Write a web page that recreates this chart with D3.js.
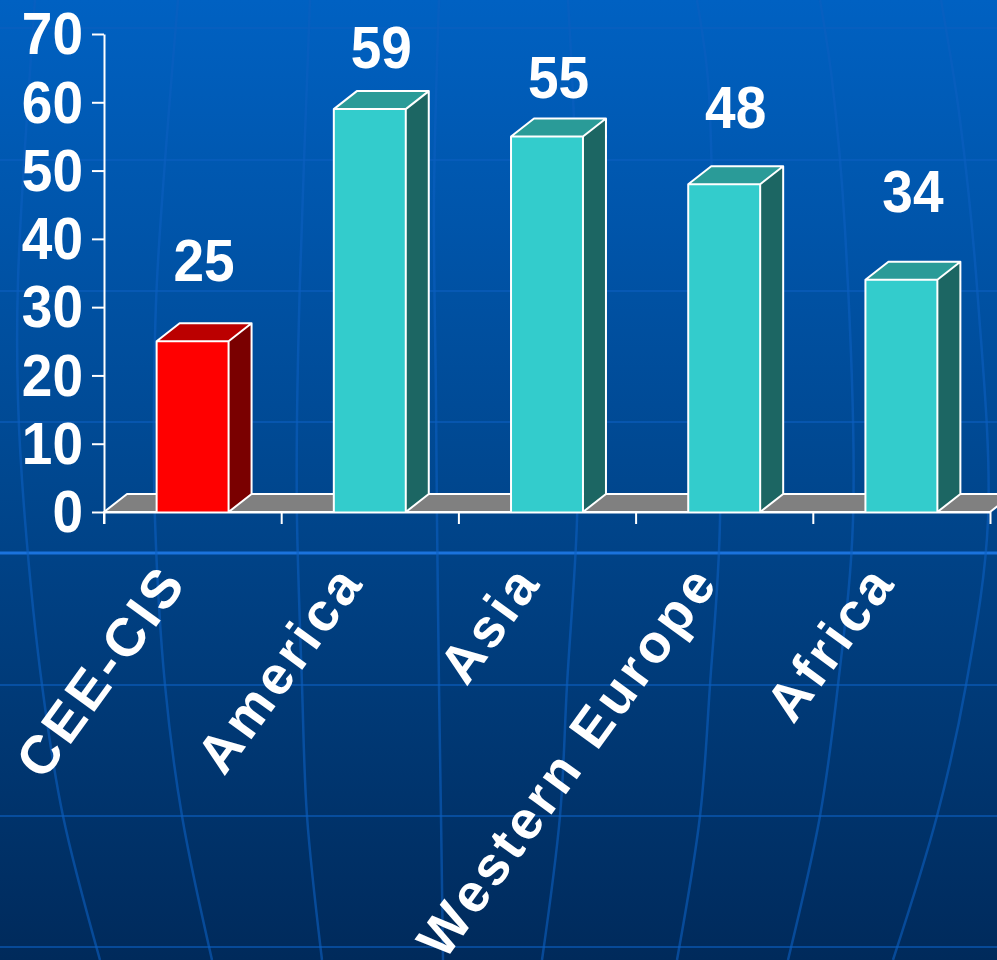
<!DOCTYPE html>
<html>
<head>
<meta charset="utf-8">
<script src="https://cdn.jsdelivr.net/npm/d3@7"></script>
<style>
  html, body { margin: 0; padding: 0; background: #003a7a; }
  svg { display: block; }
  text { font-family: "Liberation Sans", Arial, sans-serif; font-weight: bold; fill: #ffffff; }
</style>
</head>
<body>
<svg id="chart" width="997" height="960"></svg>
<script>
// ---- data ----
const categories = ["CEE-CIS", "America", "Asia", "Western Europe", "Africa"];
const values = [25, 59, 55, 48, 34];
const highlight = ["CEE-CIS"];
const yTicks = [0, 10, 20, 30, 40, 50, 60, 70];

// ---- layout ----
const W = 997, H = 960;
const plot = { left: 104, right: 990, top: 34, bottom: 512 };
const depth = { dx: 23, dy: -18 };          // oblique offset of the 3-D boxes
const labelGap = [60, 41, 38, 56, 68];       // space between box top and its value label
const stretch = 1.07;                        // numerals are drawn slightly tall

const colors = {
  normal:    { front: "#33cccc", top: "#2a9b98", side: "#1c6663" },
  highlight: { front: "#ff0000", top: "#bb0000", side: "#7a0000" },
  floor: "#808080"
};

const svg = d3.select("#chart");

// ---- backdrop: blue gradient with a globe-like graticule ----
const defs = svg.append("defs");
const grad = defs.append("linearGradient")
  .attr("id", "bg").attr("x1", 0).attr("y1", 0).attr("x2", 0).attr("y2", 1);
grad.append("stop").attr("offset", "0%").attr("stop-color", "#0061c2");
grad.append("stop").attr("offset", "50%").attr("stop-color", "#00478f");
grad.append("stop").attr("offset", "100%").attr("stop-color", "#002a5b");
svg.append("rect").attr("width", W).attr("height", H).attr("fill", "url(#bg)");

const parallels = [28, 160, 291, 422, 553, 685, 816, 947];
const meridians = [
  [[35, 0], [18, 280], [18, 400], [25, 520], [42, 685], [63, 816], [100, 960]],
  [[178, 0], [157, 280], [154, 400], [155, 520], [165, 685], [182, 816], [212, 960]],
  [[310, 0], [300, 280], [297, 420], [297, 520], [302, 685], [307, 816], [322, 960]],
  [[439, 0], [434, 200], [436, 400], [437, 520], [439, 685], [441, 816], [443, 960]],
  [[568, 0], [575, 150], [577, 400], [577, 520], [567, 685], [560, 816], [542, 960]],
  [[697, 0], [708, 80], [713, 230], [720, 520], [710, 685], [700, 816], [677, 960]],
  [[820, 0], [832, 80], [845, 230], [853, 520], [838, 685], [820, 816], [788, 960]],
  [[941, 0], [960, 120], [978, 300], [988, 520], [966, 685], [937, 816], [893, 960]]
];
const grid = svg.append("g").attr("class", "graticule").attr("fill", "none");
grid.selectAll("line").data(parallels).join("line")
  .attr("x1", 0).attr("x2", W).attr("y1", d => d).attr("y2", d => d)
  .attr("stroke", d => d === 553 ? "#1b73dd" : "#0c5fc0")
  .attr("stroke-width", d => d === 553 ? 3 : 2)
  .attr("stroke-opacity", d => d === 553 ? 1 : 0.6);
grid.selectAll("path").data(meridians).join("path")
  .attr("d", d3.line().curve(d3.curveCatmullRom))
  .attr("stroke", "#0c5fc0").attr("stroke-width", 2.5).attr("stroke-opacity", 0.6);

// ---- scales ----
const x = d3.scaleBand().domain(categories).range([plot.left, plot.right])
  .paddingInner(0.594).paddingOuter(0.297);
const xEdge = d3.scaleLinear().domain([0, categories.length]).range([plot.left, plot.right]);
const y = d3.scaleLinear().domain([0, 70]).range([plot.bottom, plot.top]);

// ---- floor ----
const y0 = y(0);
svg.append("path")
  .attr("d", d3.line()([
    [plot.left, y0], [plot.right, y0],
    [plot.right + depth.dx, y0 + depth.dy], [plot.left + depth.dx, y0 + depth.dy]
  ]) + "Z")
  .attr("fill", colors.floor).attr("stroke", "#fff").attr("stroke-width", 2)
  .attr("stroke-linejoin", "round");

// ---- 3-D boxes ----
const rows = categories.map((c, i) => ({ c, v: values[i], i }));
const bw = x.bandwidth();
const boxes = svg.append("g").selectAll("g").data(rows).join("g");
const pal = d => highlight.includes(d.c) ? colors.highlight : colors.normal;

boxes.append("path")   // side face
  .attr("d", d => {
    const x1 = x(d.c) + bw, yt = y(d.v);
    return d3.line()([[x1, y0], [x1, yt], [x1 + depth.dx, yt + depth.dy], [x1 + depth.dx, y0 + depth.dy]]) + "Z";
  })
  .attr("fill", d => pal(d).side);
boxes.append("path")   // top face
  .attr("d", d => {
    const x0 = x(d.c), x1 = x0 + bw, yt = y(d.v);
    return d3.line()([[x0, yt], [x1, yt], [x1 + depth.dx, yt + depth.dy], [x0 + depth.dx, yt + depth.dy]]) + "Z";
  })
  .attr("fill", d => pal(d).top);
boxes.append("rect")   // front face
  .attr("x", d => x(d.c)).attr("y", d => y(d.v))
  .attr("width", bw).attr("height", d => y0 - y(d.v))
  .attr("fill", d => pal(d).front);
boxes.append("path")   // outline
  .attr("d", d => {
    const x0 = x(d.c), x1 = x0 + bw, yt = y(d.v);
    return d3.line()([[x0, y0], [x0, yt], [x1, yt], [x1, y0]]) +
      d3.line()([[x0, yt], [x0 + depth.dx, yt + depth.dy], [x1 + depth.dx, yt + depth.dy], [x1, yt]]) +
      d3.line()([[x1 + depth.dx, yt + depth.dy], [x1 + depth.dx, y0 + depth.dy], [x1, y0]]);
  })
  .attr("fill", "none").attr("stroke", "#fff").attr("stroke-width", 2)
  .attr("stroke-linejoin", "round");

// ---- axes ----
const yAxis = svg.append("g").attr("transform", `translate(${plot.left},0)`)
  .call(d3.axisLeft(y).tickValues(yTicks).tickSize(12).tickSizeOuter(0).tickPadding(9));
yAxis.select(".domain").attr("stroke", "#fff").attr("stroke-width", 2);
yAxis.selectAll(".tick line").attr("stroke", "#fff").attr("stroke-width", 2);
yAxis.selectAll(".tick text").attr("fill", "#fff").attr("font-size", 55)
  .attr("font-family", "Liberation Sans, Arial, sans-serif").attr("font-weight", "bold")
  .attr("x", null).attr("dy", null)
  .attr("transform", `translate(-21,0) scale(1,${stretch}) translate(0,${0.36 * 55 / stretch})`);
yAxis.append("line").attr("y1", y0).attr("y2", y0 + 12).attr("stroke", "#fff").attr("stroke-width", 2);

const xAxis = svg.append("g").attr("transform", `translate(0,${y0})`)
  .call(d3.axisBottom(xEdge).tickValues(d3.range(categories.length + 1)).tickFormat("")
    .tickSize(12).tickSizeOuter(0));
xAxis.select(".domain").attr("stroke", "#fff").attr("stroke-width", 2);
xAxis.selectAll(".tick line").attr("stroke", "#fff").attr("stroke-width", 2);

// ---- value labels ----
svg.append("g").selectAll("text").data(rows).join("text")
  .attr("transform", d =>
    `translate(${x(d.c) + bw / 2 + depth.dx / 2},${y(d.v) - labelGap[d.i]}) scale(1,${stretch})`)
  .attr("text-anchor", "middle").attr("font-size", 55)
  .text(d => d.v);

// ---- category labels ----
svg.append("g").selectAll("text").data(categories).join("text")
  .attr("transform", d => `translate(${x(d) + bw / 2 - 4},582) rotate(-54)`)
  .attr("text-anchor", "end").attr("font-size", 54)
  .attr("letter-spacing", 4)
  .text(d => d);
</script>
</body>
</html>
